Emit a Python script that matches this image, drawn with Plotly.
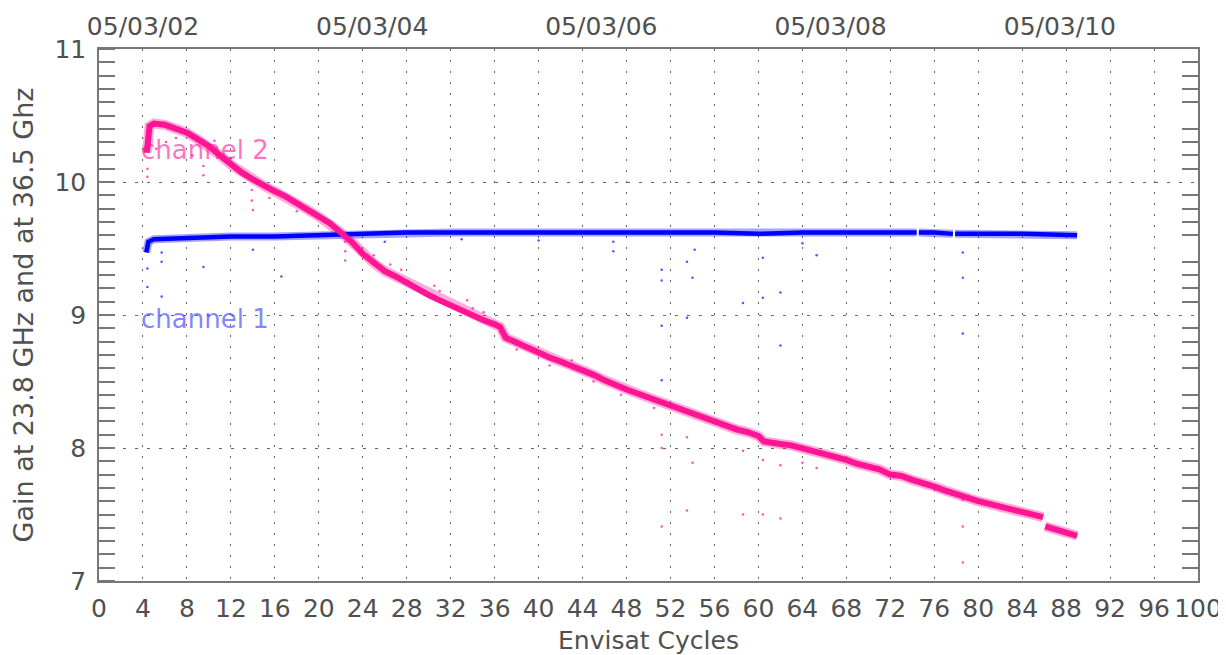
import plotly.graph_objects as go

# ---------------- data ----------------
ch2_cycle = [4.35, 4.6, 5.0, 6, 7, 8, 9, 10, 11, 12, 13, 14, 15, 16, 17, 18, 19, 20, 21, 22,
             23, 24, 25, 26, 27, 28, 29, 30, 31, 32, 33, 34, 35, 36, 36.5, 37, 38, 39, 40,
             41, 42, 43, 44, 45, 46, 47, 48, 49, 50, 51, 52, 53, 54, 55, 56, 57, 58, 59, 60,
             60.5, 61, 62, 63, 64, 65, 66, 67, 68, 69, 70, 71, 72, 73, 74, 75, 76, 77, 78, 79,
             80, 81, 82, 83, 84, 85, 85.9, None, 86.1, 87, 88, 89]
ch2_gain = [10.22, 10.42, 10.44, 10.43, 10.40, 10.37, 10.32, 10.27, 10.20, 10.13, 10.07, 10.02,
            9.97, 9.93, 9.89, 9.84, 9.79, 9.74, 9.69, 9.62, 9.55, 9.46, 9.39, 9.33, 9.29, 9.24,
            9.20, 9.15, 9.11, 9.07, 9.04, 9.00, 8.96, 8.93, 8.91, 8.83, 8.79, 8.75, 8.71, 8.68,
            8.65, 8.62, 8.59, 8.55, 8.51, 8.47, 8.44, 8.41, 8.38, 8.35, 8.31, 8.28, 8.26, 8.22,
            8.19, 8.17, 8.14, 8.12, 8.09, 8.05, 8.04, 8.03, 8.02, 8.00, 7.98, 7.96, 7.93, 7.91,
            7.88, 7.86, 7.84, 7.80, 7.79, 7.76, 7.74, 7.71, 7.68, 7.65, 7.63, 7.60, 7.58, 7.56,
            7.54, 7.52, 7.50, 7.48, None, 7.41, 7.39, 7.37, 7.34]

ch1_cycle = [4.3, 4.5, 5, 8, 12, 16, 20, 24, 28, 32, 36, 40, 44, 48, 52, 56, 60, 64, 68, 72,
             74.4, None, 74.6, 76, 77.7, None, 77.9, 80, 84, 89]
ch1_gain = [9.47, 9.55, 9.57, 9.58, 9.59, 9.59, 9.60, 9.61, 9.62, 9.62, 9.62, 9.62, 9.62, 9.62,
            9.62, 9.62, 9.61, 9.62, 9.62, 9.62, 9.62, None, 9.62, 9.62, 9.61, None, 9.61, 9.61,
            9.61, 9.60]

# scattered / outlying samples
ch2_out_cycle = [4.4, 4.4, 5.2, 6.1, 8.5, 9.5, 9.5, 13.9, 13.9, 14.0, 15.5, 18.0, 20.5, 22.4,
                 22.4, 22.4, 25.0, 27.5, 30.5, 33.5, 35.0, 38.0, 41.0, 45.0, 47.5, 50.5,
                 51.2, 51.2, 51.2, 53.5, 53.5, 54.0, 58.6, 58.6, 60.4, 60.4, 62.0, 62.0, 64.0,
                 65.3, 78.6, 78.6, 78.6, 7.0, 10.5, 12.0, 26.5, 31.0, 34.0, 43.0]
ch2_out_gain = [10.10, 10.04, 10.25, 10.30, 10.20, 10.12, 10.05, 9.94, 9.86, 9.79, 9.88, 9.78,
                9.70, 9.55, 9.48, 9.41, 9.45, 9.34, 9.22, 9.11, 9.02, 8.74, 8.62, 8.50, 8.40,
                8.30, 8.10, 8.00, 7.41, 8.08, 7.53, 7.89, 7.98, 7.50, 7.91, 7.50, 7.87, 7.47,
                7.89, 7.85, 7.61, 7.41, 7.14, 10.33, 10.31, 10.18, 9.38, 9.18, 9.05, 8.66]

ch1_out_cycle = [4.4, 4.4, 5.7, 5.7, 5.7, 9.5, 14.0, 16.6, 46.8, 46.8, 51.2, 51.2, 51.2, 51.2,
                 53.5, 53.5, 54.0, 54.2, 58.6, 60.4, 60.4, 62.0, 62.0, 64.0, 65.3, 78.6, 78.6,
                 78.6, 26.0, 33.0, 40.0]
ch1_out_gain = [9.35, 9.21, 9.47, 9.40, 9.14, 9.36, 9.49, 9.29, 9.55, 9.48, 9.34, 9.26, 8.92,
                8.51, 9.40, 8.98, 9.28, 9.49, 9.09, 9.43, 9.13, 9.17, 8.77, 9.54, 9.45, 9.47,
                9.28, 8.86, 9.55, 9.57, 9.56]

x_ticks = list(range(0, 101, 4))
date_pos = [4.0, 24.86, 45.71, 66.57, 87.43]
date_text = ["05/03/02", "05/03/04", "05/03/06", "05/03/08", "05/03/10"]
y_ticks = [7, 8, 9, 10, 11]

PINK = "#FF1493"
BLUE = "#0000FF"
TXT = "#505050"
FONT = "DejaVu Sans"
FS = 25

fig = go.Figure()

fig.add_trace(go.Scatter(x=ch1_out_cycle, y=ch1_out_gain, mode="markers",
                         marker=dict(color="#5555FF", size=2.5), showlegend=False))
fig.add_trace(go.Scatter(x=ch2_out_cycle, y=ch2_out_gain, mode="markers",
                         marker=dict(color="#FF55AA", size=2.5), showlegend=False))
# soft halo to imitate the scatter of the dense samples
fig.add_trace(go.Scatter(x=ch1_cycle, y=ch1_gain, mode="lines", opacity=0.35,
                         line=dict(color=BLUE, width=8), connectgaps=False, showlegend=False))
fig.add_trace(go.Scatter(x=ch2_cycle, y=ch2_gain, mode="lines", opacity=0.35,
                         line=dict(color=PINK, width=10), connectgaps=False, showlegend=False))
fig.add_trace(go.Scatter(x=ch1_cycle, y=ch1_gain, mode="lines",
                         line=dict(color=BLUE, width=4.5), connectgaps=False, showlegend=False))
fig.add_trace(go.Scatter(x=ch2_cycle, y=ch2_gain, mode="lines",
                         line=dict(color=PINK, width=6), connectgaps=False, showlegend=False))

# invisible trace on the top date axis
fig.add_trace(go.Scatter(x=[0, 100], y=[7, 7], xaxis="x2", mode="markers",
                         marker=dict(opacity=0), showlegend=False, hoverinfo="skip"))
# invisible trace for the right-hand mirror axis
fig.add_trace(go.Scatter(x=[0, 100], y=[7, 7], yaxis="y2", mode="markers",
                         marker=dict(opacity=0), showlegend=False, hoverinfo="skip"))

fig.add_annotation(x=4, y=10.24, xanchor="left", yanchor="middle", text="channel 2",
                   showarrow=False, xshift=-4,
                   font=dict(family=FONT, size=26, color="rgba(255,20,147,0.6)"))
fig.add_annotation(x=4, y=8.97, xanchor="left", yanchor="middle", text="channel 1",
                   showarrow=False, xshift=-4,
                   font=dict(family=FONT, size=26, color="rgba(60,60,255,0.65)"))

axis_line = dict(showline=True, linecolor="#777777", linewidth=1.5)

# the page body adds an 8px margin; figure sized so that it ends exactly at the window edge
fig.update_layout(
    width=1218, height=647,
    margin=dict(l=91, r=28, t=41, b=74),
    paper_bgcolor="white", plot_bgcolor="white",
    font=dict(family=FONT, size=FS, color=TXT),
    xaxis=dict(range=[0, 100], tickvals=x_ticks, ticktext=[str(v) for v in x_ticks],
               ticks="", showgrid=True, gridcolor="#666666", griddash="2px,9px", gridwidth=1,
               zeroline=False, mirror=True, automargin=False, ticklabelstandoff=4,
               title=dict(text="Envisat Cycles", font=dict(size=FS, color=TXT), standoff=12),
               tickfont=dict(size=FS, color=TXT), **axis_line),
    xaxis2=dict(range=[0, 100], overlaying="x", side="top", tickvals=date_pos,
                ticktext=date_text, ticks="", showgrid=False, zeroline=False,
                automargin=False, ticklabelstandoff=8,
                tickfont=dict(size=FS, color=TXT), showline=False),
    yaxis=dict(range=[7, 11], tickvals=y_ticks, ticks="", showgrid=True,
               gridcolor="#666666", griddash="3px,9px", gridwidth=1, zeroline=False, mirror=True,
               automargin=False, ticklabelstandoff=6,
               minor=dict(dtick=0.1, ticks="inside", ticklen=16, tickcolor="#777777",
                          tickwidth=1.5, showgrid=False),
               title=dict(text="Gain at 23.8 GHz and at 36.5 Ghz", font=dict(size=27, color=TXT),
                          standoff=16),
               tickfont=dict(size=FS, color=TXT), **axis_line),
    yaxis2=dict(range=[7, 11], overlaying="y", side="right", showticklabels=False,
                ticks="", showgrid=False, zeroline=False, automargin=False,
                minor=dict(dtick=0.1, ticks="inside", ticklen=16, tickcolor="#777777",
                           tickwidth=1.5, showgrid=False)),
)

fig.write_html("out.html")
